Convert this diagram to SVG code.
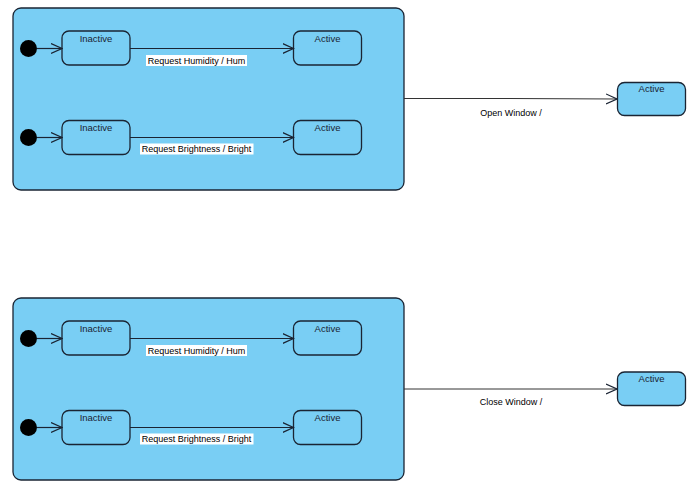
<svg xmlns="http://www.w3.org/2000/svg" width="699" height="495" viewBox="0 0 699 495">
<style>
.comp{fill:#79CEF4;stroke:#1a2433;stroke-width:1.3}
.st{fill:#79CEF4;stroke:#1a2433;stroke-width:1.3}
.init{fill:#000}
.name{font-family:"Liberation Sans",Arial,sans-serif;font-size:9.5px;fill:#1a2433;text-anchor:middle}
.lbl{font-family:"Liberation Sans",Arial,sans-serif;font-size:9px;fill:#000;text-anchor:middle}
.bg{fill:#fff}
.edge{fill:none;stroke:#1a2433;stroke-width:1.2}
.edge2{fill:none;stroke:#333;stroke-width:1}
</style>
<defs>
<marker id="arr" viewBox="0 0 12 12" refX="11" refY="6" markerWidth="12" markerHeight="12" markerUnits="userSpaceOnUse" orient="auto">
<path d="M0,1 L11,6 L0,11" fill="none" stroke="#1a2433" stroke-width="1.2"/>
</marker>
</defs>

<g id="composite1">
<rect class="comp" x="13" y="8" width="391" height="182" rx="8"/>
</g>
<g id="composite2">
<rect class="comp" x="13" y="298" width="391" height="182" rx="8"/>
</g>

<g id="init1"><circle class="init" cx="28.5" cy="48.5" r="8.5"/></g>
<g id="init2"><circle class="init" cx="28.5" cy="137.5" r="8.5"/></g>
<g id="init3"><circle class="init" cx="28.5" cy="338.5" r="8.5"/></g>
<g id="init4"><circle class="init" cx="28.5" cy="427.5" r="8.5"/></g>

<g id="inactive1"><rect class="st" x="62" y="31" width="68" height="34" rx="7"/><text class="name" x="96" y="41.5">Inactive</text></g>
<g id="active1"><rect class="st" x="293.5" y="31" width="68" height="34" rx="7"/><text class="name" x="327.5" y="41.5">Active</text></g>
<g id="inactive2"><rect class="st" x="62" y="120.5" width="68" height="34" rx="7"/><text class="name" x="96" y="130.5">Inactive</text></g>
<g id="active2"><rect class="st" x="293.5" y="120.5" width="68" height="34" rx="7"/><text class="name" x="327.5" y="130.5">Active</text></g>
<g id="activeOpen"><rect class="st" x="617.5" y="82.5" width="68" height="33" rx="7"/><text class="name" x="651.5" y="92">Active</text></g>

<g id="inactive3"><rect class="st" x="62" y="321" width="68" height="34" rx="7"/><text class="name" x="96" y="331.5">Inactive</text></g>
<g id="active3"><rect class="st" x="293.5" y="321" width="68" height="34" rx="7"/><text class="name" x="327.5" y="331.5">Active</text></g>
<g id="inactive4"><rect class="st" x="62" y="410.5" width="68" height="34" rx="7"/><text class="name" x="96" y="420.5">Inactive</text></g>
<g id="active4"><rect class="st" x="293.5" y="410.5" width="68" height="34" rx="7"/><text class="name" x="327.5" y="420.5">Active</text></g>
<g id="activeClose"><rect class="st" x="617.5" y="372" width="68" height="33.5" rx="7"/><text class="name" x="651.5" y="381.5">Active</text></g>

<g id="connectors">
<line class="edge" x1="37" y1="48.5" x2="62" y2="48.5" marker-end="url(#arr)"/>
<line class="edge" x1="37" y1="137.5" x2="62" y2="137.5" marker-end="url(#arr)"/>
<line class="edge" x1="37" y1="338.5" x2="62" y2="338.5" marker-end="url(#arr)"/>
<line class="edge" x1="37" y1="427.5" x2="62" y2="427.5" marker-end="url(#arr)"/>

<line class="edge" x1="130" y1="48.5" x2="293.5" y2="48.5" marker-end="url(#arr)"/>
<rect class="bg" x="146" y="55" width="101" height="11"/>
<text class="lbl" x="196.5" y="63.5">Request Humidity / Hum</text>

<line class="edge" x1="130" y1="137.5" x2="293.5" y2="137.5" marker-end="url(#arr)"/>
<rect class="bg" x="140" y="143.5" width="113.5" height="11"/>
<text class="lbl" x="196.5" y="151.5">Request Brightness / Bright</text>

<line class="edge" x1="130" y1="338.5" x2="293.5" y2="338.5" marker-end="url(#arr)"/>
<rect class="bg" x="146" y="345" width="101" height="11"/>
<text class="lbl" x="196.5" y="353.5">Request Humidity / Hum</text>

<line class="edge" x1="130" y1="427.5" x2="293.5" y2="427.5" marker-end="url(#arr)"/>
<rect class="bg" x="140" y="433.5" width="113.5" height="11"/>
<text class="lbl" x="196.5" y="441.5">Request Brightness / Bright</text>

<path class="edge2" d="M404,98.5 L510,98.5 L617,99" marker-end="url(#arr)"/>
<text class="lbl" x="511" y="115.5">Open Window /</text>

<line class="edge2" x1="404" y1="389" x2="617" y2="389" marker-end="url(#arr)"/>
<text class="lbl" x="511" y="405">Close Window /</text>
</g>
</svg>
